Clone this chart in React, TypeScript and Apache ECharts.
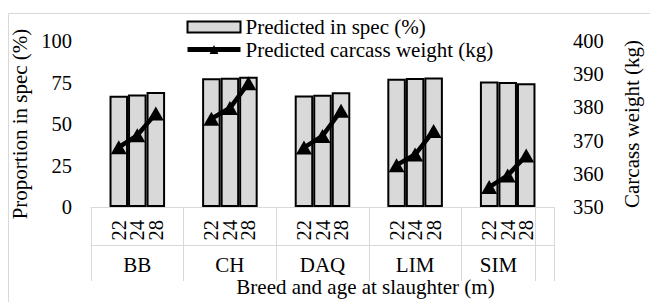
import React, { useEffect, useRef } from 'react';
import * as echarts from 'echarts';

const groups = ['BB', 'CH', 'DAQ', 'LIM', 'SIM'];
const ages = ['22', '24', '28'];
// Predicted in spec (%) per breed, ages 22/24/28
const specPct = [
  [67.0, 67.8, 69.3],
  [77.5, 77.9, 78.4],
  [67.2, 67.6, 69.2],
  [77.3, 77.7, 78.0],
  [75.6, 75.3, 74.6],
];
// Predicted carcass weight (kg) per breed, ages 22/24/28
const carcassKg = [
  [368.0, 371.6, 378.2],
  [376.6, 379.8, 387.3],
  [367.9, 371.4, 379.0],
  [362.6, 365.8, 372.9],
  [356.0, 359.5, 365.5],
];
const leftAxis = { min: 0, max: 100, step: 25 };
const rightAxis = { min: 350, max: 400, step: 10 };

const FONT = '"Liberation Serif", "Times New Roman", serif';
const FS = 21;
const FS_TICK = 20.5;

function buildSlots() {
  const keys: string[] = [];
  const labels: string[] = [];
  const bars: (number | null)[] = [];
  const line: (number | null)[] = [];
  const starts: number[] = [];
  const centers: number[] = [];
  const pushBlank = () => {
    keys.push('blank' + keys.length);
    labels.push('');
    bars.push(null);
    line.push(null);
  };
  groups.forEach((g, gi) => {
    const start = keys.length;
    starts.push(start);
    pushBlank();
    ages.forEach((a, ai) => {
      keys.push(g + '-' + a);
      labels.push(a);
      bars.push(specPct[gi][ai]);
      line.push(carcassKg[gi][ai]);
    });
    if (gi < groups.length - 1) pushBlank();
    centers.push((start + keys.length) / 2);
  });
  starts.push(keys.length);
  pushBlank();
  return { keys, labels, bars, line, starts, centers };
}

export default function App() {
  const ref = useRef<HTMLDivElement>(null);
  useEffect(() => {
    if (!ref.current) return;
    const chart = echarts.init(ref.current, null, { renderer: 'svg' });
    const s = buildSlots();
    const boundary = new Set(s.starts);
    const grey = '#d9d9d9';
    const txt = { fontFamily: FONT, fontSize: FS, color: '#000' };
    const tick = { fontFamily: FONT, fontSize: FS_TICK, color: '#000' };
    chart.setOption({
      animation: false,
      textStyle: { fontFamily: FONT, color: '#000' },
      graphic: [
        {
          type: 'rect',
          shape: { x: 8.5, y: 13.5, width: 800, height: 400 },
          style: { fill: 'none', stroke: grey, lineWidth: 1 },
          silent: true,
          z: -10,
        },
      ],
      legend: {
        orient: 'vertical',
        left: 185,
        top: 16.5,
        padding: 0,
        itemWidth: 53,
        itemHeight: 11,
        itemGap: 1.5,
        textStyle: { ...txt, lineHeight: 20 },
        lineStyle: { width: 5 },
        data: [
          { name: 'Predicted in spec (%)', icon: 'rect' },
          { name: 'Predicted carcass weight (kg)' },
        ],
      },
      grid: { left: 91, right: 82, top: 41, bottom: 87.5, containLabel: false },
      xAxis: [
        {
          type: 'category',
          data: s.keys,
          boundaryGap: true,
          position: 'bottom',
          axisLine: { show: true, lineStyle: { color: grey, width: 1 } },
          axisTick: {
            show: true,
            interval: (i: number) => boundary.has(i),
            length: 74,
            lineStyle: { color: grey, width: 1 },
          },
          axisLabel: {
            ...tick,
            interval: 0,
            rotate: 90,
            margin: 13,
            formatter: (_v: string, i: number) => s.labels[i],
          },
          name: 'Breed and age at slaughter (m)',
          nameLocation: 'middle',
          nameGap: 69,
          nameTextStyle: { ...txt, padding: [0, 0, 0, 86] },
          splitLine: { show: false },
        },
        {
          type: 'value',
          min: 0,
          max: s.keys.length,
          interval: 0.5,
          position: 'bottom',
          offset: 38,
          axisLine: { show: true, lineStyle: { color: grey, width: 1 } },
          axisTick: { show: false },
          splitLine: { show: false },
          axisLabel: {
            ...txt,
            margin: 9,
            formatter: (v: number) => {
              const idx = s.centers.findIndex((c) => Math.abs(c - v) < 1e-6);
              return idx >= 0 ? groups[idx] : '';
            },
          },
        },
      ],
      yAxis: [
        {
          type: 'value',
          min: leftAxis.min,
          max: leftAxis.max,
          interval: leftAxis.step,
          position: 'left',
          axisLine: { show: false },
          axisTick: { show: false },
          splitLine: { show: false },
          axisLabel: { ...tick, margin: 19 },
          name: 'Proportion in spec (%)',
          nameLocation: 'middle',
          nameRotate: 90,
          nameGap: 53,
          nameTextStyle: txt,
        },
        {
          type: 'value',
          min: rightAxis.min,
          max: rightAxis.max,
          interval: rightAxis.step,
          position: 'right',
          axisLine: { show: false },
          axisTick: { show: false },
          splitLine: { show: false },
          axisLabel: { ...tick, margin: 19 },
          name: 'Carcass weight (kg)',
          nameLocation: 'middle',
          nameRotate: 90,
          nameGap: 67,
          nameTextStyle: txt,
        },
      ],
      series: [
        {
          name: 'Predicted in spec (%)',
          type: 'bar',
          xAxisIndex: 0,
          yAxisIndex: 0,
          data: s.bars,
          barCategoryGap: '0%',
          itemStyle: { color: grey, borderColor: '#000', borderWidth: 2 },
        },
        {
          name: 'Predicted carcass weight (kg)',
          type: 'line',
          xAxisIndex: 0,
          yAxisIndex: 1,
          data: s.line,
          connectNulls: false,
          symbol: 'triangle',
          symbolSize: [16, 14],
          lineStyle: { color: '#000', width: 4.5 },
          itemStyle: { color: '#000' },
          z: 5,
        },
      ],
    });
    return () => chart.dispose();
  }, []);
  return (
    <div
      ref={ref}
      style={{ position: 'fixed', left: 0, top: 0, width: 650, height: 302, background: '#fff' }}
    />
  );
}
